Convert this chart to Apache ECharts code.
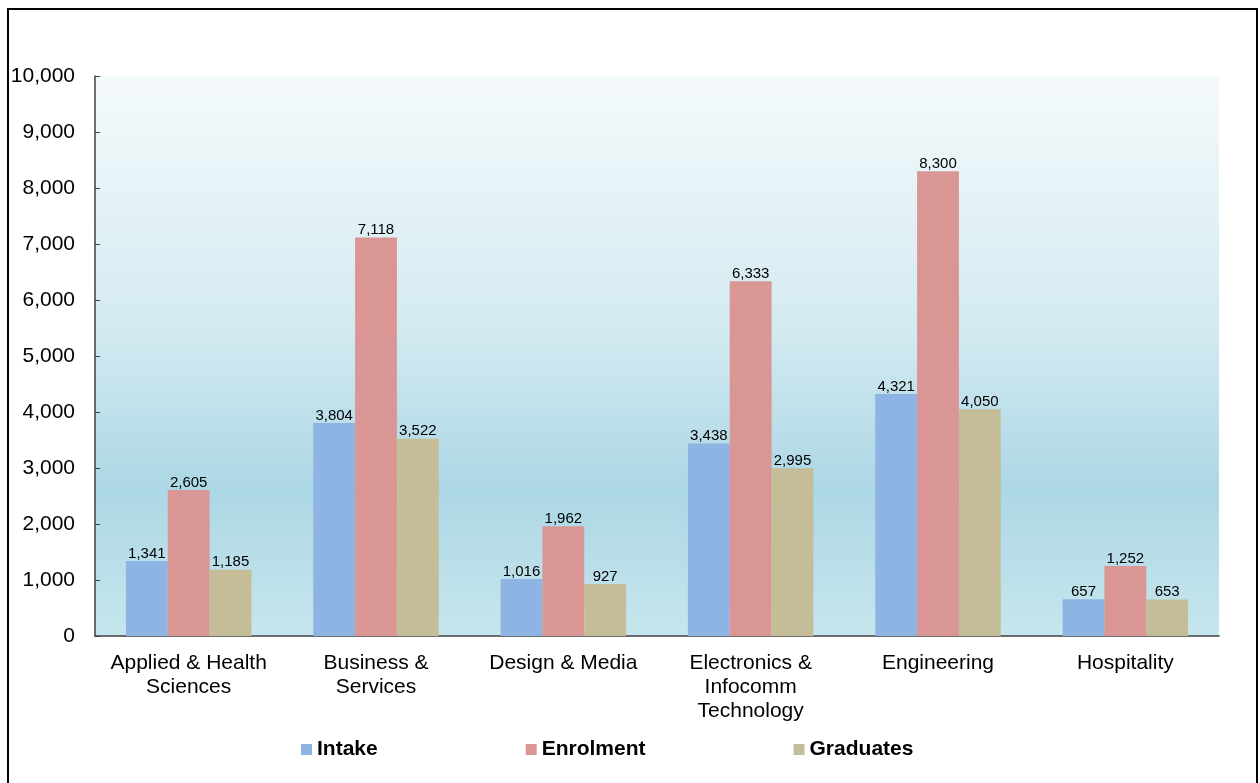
<!DOCTYPE html>
<html lang="en">
<head>
  <meta charset="UTF-8">
  <title>Intake, Enrolment and Graduates</title>
  <script src="https://cdn.jsdelivr.net/npm/echarts@6/dist/echarts.min.js"></script>
  <style>
    html, body {
      margin: 0;
      padding: 0;
      background: #fff;
    }

    #main {
      width: 1260px;
      height: 783px;
    }
  </style>
</head>
<body>
  <div id="main"></div>

  <script type="text/javascript">
    var categories = [
      'Applied & Health\nSciences',
      'Business &\nServices',
      'Design & Media',
      'Electronics &\nInfocomm\nTechnology',
      'Engineering',
      'Hospitality'
    ]
    var intake = [1341, 3804, 1016, 3438, 4321, 657]
    var enrolment = [2605, 7118, 1962, 6333, 8300, 1252]
    var graduates = [1185, 3522, 927, 2995, 4050, 653]
    var yTicks = { min: 0, max: 10000, interval: 1000 }

    var font = '"Liberation Sans", Arial, sans-serif'

    var myChart = echarts.init(document.getElementById('main'))

    var labelStyle = {
      show: true,
      position: 'top',
      distance: 0,
      fontFamily: font,
      fontSize: 15,
      color: '#000',
      formatter: function (p) {
        return p.value.toLocaleString('en-US')
      }
    }

    function makeSeries(name, data, color) {
      return {
        name: name,
        type: 'bar',
        data: data,
        barGap: '0%',
        barCategoryGap: '33%',
        itemStyle: { color: color },
        label: labelStyle
      }
    }

    var option = {
      animation: false,
      textStyle: { fontFamily: font },
      graphic: [
        {
          type: 'rect',
          silent: true,
          shape: { x: 8, y: 9, width: 1249, height: 800 },
          style: { fill: 'none', stroke: '#000', lineWidth: 2 }
        }
      ],
      grid: {
        left: 95,
        right: 41,
        top: 76,
        bottom: 147,
        show: true,
        borderWidth: 0,
        backgroundColor: {
          type: 'linear',
          x: 0, y: 0, x2: 0, y2: 1,
          colorStops: [
            { offset: 0, color: '#f5fafc' },
            { offset: 0.45, color: '#d3eaf1' },
            { offset: 0.74, color: '#acd7e5' },
            { offset: 1, color: '#c7e6ed' }
          ]
        }
      },
      legend: {
        left: 296,
        top: 734,
        itemGap: 148,
        itemWidth: 11,
        itemHeight: 11,
        icon: 'rect',
        textStyle: {
          fontFamily: font,
          fontSize: 21,
          fontWeight: 'bold',
          color: '#000'
        },
        data: ['Intake', 'Enrolment', 'Graduates']
      },
      xAxis: {
        type: 'category',
        data: categories,
        axisLine: { lineStyle: { color: '#404040', width: 1.5 } },
        axisTick: { inside: true, length: 5, lineStyle: { color: '#404040' } },
        axisLabel: {
          margin: 15,
          fontFamily: font,
          fontSize: 21,
          lineHeight: 24,
          color: '#000',
          interval: 0
        }
      },
      yAxis: {
        type: 'value',
        min: yTicks.min,
        max: yTicks.max,
        interval: yTicks.interval,
        splitLine: { show: false },
        axisLine: { show: true, lineStyle: { color: '#404040', width: 1.5 } },
        axisTick: { show: true, inside: true, length: 5, lineStyle: { color: '#404040' } },
        axisLabel: {
          margin: 20,
          fontFamily: font,
          fontSize: 21,
          color: '#000',
          formatter: function (v) {
            return v.toLocaleString('en-US')
          }
        }
      },
      series: [
        makeSeries('Intake', intake, '#8eb4e3'),
        makeSeries('Enrolment', enrolment, '#d99694'),
        makeSeries('Graduates', graduates, '#c4bd97')
      ]
    }

    myChart.setOption(option)
  </script>
</body>
</html>
